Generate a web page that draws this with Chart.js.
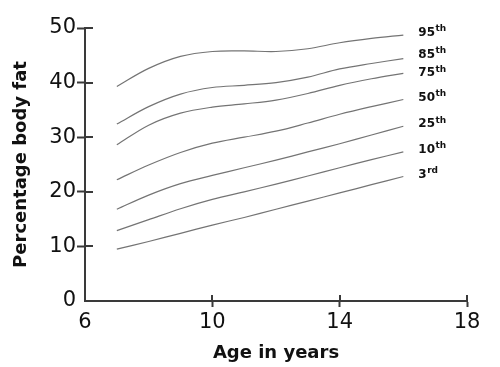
<!DOCTYPE html>
<html>
<head>
<meta charset="utf-8">
<script src="https://cdn.jsdelivr.net/npm/chart.js@4"></script>
<style>
  html, body { margin: 0; padding: 0; background: #fff; }
  #wrap { width: 500px; height: 367px; }
</style>
</head>
<body>
<div id="wrap"><canvas id="chart" width="500" height="367"></canvas></div>
<script>
// age in years
const ages = [7, 8, 9, 10, 11, 12, 13, 14, 15, 16];

// percentage body fat per centile
const p3  = [9.5, 10.9, 12.4, 13.9, 15.3, 16.8, 18.3, 19.8, 21.3, 22.8];
const p10 = [12.9, 14.9, 16.9, 18.6, 20.0, 21.4, 22.9, 24.4, 25.9, 27.3];
const p25 = [16.8, 19.4, 21.5, 23.0, 24.4, 25.8, 27.3, 28.8, 30.4, 32.0];
const p50 = [22.2, 24.9, 27.2, 28.9, 30.0, 31.1, 32.6, 34.2, 35.6, 36.9];
const p75 = [28.6, 32.2, 34.4, 35.5, 36.1, 36.8, 38.0, 39.5, 40.7, 41.7];
const p85 = [32.4, 35.6, 37.9, 39.1, 39.5, 40.0, 41.0, 42.5, 43.5, 44.4];
const p95 = [39.3, 42.6, 44.8, 45.7, 45.8, 45.7, 46.2, 47.3, 48.1, 48.7];

const centileNames = ["3", "10", "25", "50", "75", "85", "95"];
const centileSuffix = ["rd", "th", "th", "th", "th", "th", "th"];
const centileData = [p3, p10, p25, p50, p75, p85, p95];

const xTicks = [6, 10, 14, 18];
const yTicks = [0, 10, 20, 30, 40, 50];

const axisColor = "#3a3a3a";
const lineColor = "#747474";

let datasets = [];
centileData.forEach(function(vals, i) {
    datasets.push({
        label: centileNames[i],
        data: ages.map((a, k) => ({ x: a, y: vals[k] })),
        borderColor: lineColor,
        borderWidth: 1.2,
        pointRadius: 0,
        fill: false,
        tension: 0.35
    });
});

// inner half of the tick marks, plus centile labels at line ends
const extras = {
    id: "extras",
    afterDraw(chart) {
        const ctx = chart.ctx;
        const xs = chart.scales.x, ys = chart.scales.y;
        ctx.save();
        ctx.strokeStyle = axisColor;
        ctx.lineWidth = 2;
        ctx.beginPath();
        yTicks.forEach(v => {
            if (v === 0) return;
            const py = Math.round(ys.getPixelForValue(v));
            ctx.moveTo(xs.left, py);
            ctx.lineTo(xs.left + 8, py);
        });
        xTicks.forEach(v => {
            if (v === 6) return;
            const px = Math.round(xs.getPixelForValue(v));
            ctx.moveTo(px, ys.bottom);
            ctx.lineTo(px, ys.bottom - 6);
        });
        ctx.stroke();

        ctx.fillStyle = "#111";
        ctx.textBaseline = "middle";
        centileData.forEach((vals, i) => {
            const last = vals.length - 1;
            const px = xs.getPixelForValue(ages[last]) + 15;
            let py = ys.getPixelForValue(vals[last]) - 2;
            if (centileNames[i] === "85") py -= 2;
            if (centileNames[i] === "75") py += 2;
            ctx.font = "bold 12px 'DejaVu Sans'";
            ctx.fillText(centileNames[i], px, py);
            const w = ctx.measureText(centileNames[i]).width;
            ctx.font = "bold 9px 'DejaVu Sans'";
            ctx.fillText(centileSuffix[i], px + w + 0.5, py - 4);
        });
        ctx.restore();
    }
};

new Chart(
    document.querySelector("canvas#chart"),
    {
        type: "line",
        data: { datasets: datasets },
        options: {
            responsive: false,
            animation: false,
            layout: { padding: { top: 28, right: 33, left: 0, bottom: 0 } },
            plugins: { legend: { display: false }, tooltip: { enabled: false } },
            scales: {
                x: {
                    type: "linear",
                    min: 6,
                    max: 18,
                    afterBuildTicks: s => { s.ticks = xTicks.map(v => ({ value: v })); },
                    afterFit: s => { s.height = 66; },
                    border: { color: axisColor, width: 2 },
                    grid: {
                        drawOnChartArea: false,
                        tickLength: 6,
                        tickWidth: 2,
                        tickColor: c => (c.tick && c.tick.value === 6) ? "rgba(0,0,0,0)" : axisColor
                    },
                    ticks: {
                        color: "#111",
                        font: { family: "DejaVu Sans", size: 21 },
                        padding: 3,
                        maxRotation: 0
                    },
                    title: {
                        display: true,
                        text: "Age in years",
                        color: "#111",
                        font: { family: "DejaVu Sans", size: 18, weight: "bold" },
                        padding: { top: 0, bottom: 3 }
                    }
                },
                y: {
                    min: 0,
                    max: 50,
                    afterBuildTicks: s => { s.ticks = yTicks.map(v => ({ value: v })); },
                    afterFit: s => { s.width = 85; },
                    border: { color: axisColor, width: 2 },
                    grid: {
                        drawOnChartArea: false,
                        tickLength: 8,
                        tickWidth: 2,
                        tickColor: c => (c.tick && c.tick.value === 0) ? "rgba(0,0,0,0)" : axisColor
                    },
                    ticks: {
                        color: "#111",
                        font: { family: "DejaVu Sans", size: 21 },
                        padding: 1
                    },
                    title: {
                        display: true,
                        text: "Percentage body fat",
                        color: "#111",
                        font: { family: "DejaVu Sans", size: 18, weight: "bold" },
                        padding: { top: 11, bottom: 0 }
                    }
                }
            }
        },
        plugins: [extras]
    }
);
</script>
</body>
</html>
